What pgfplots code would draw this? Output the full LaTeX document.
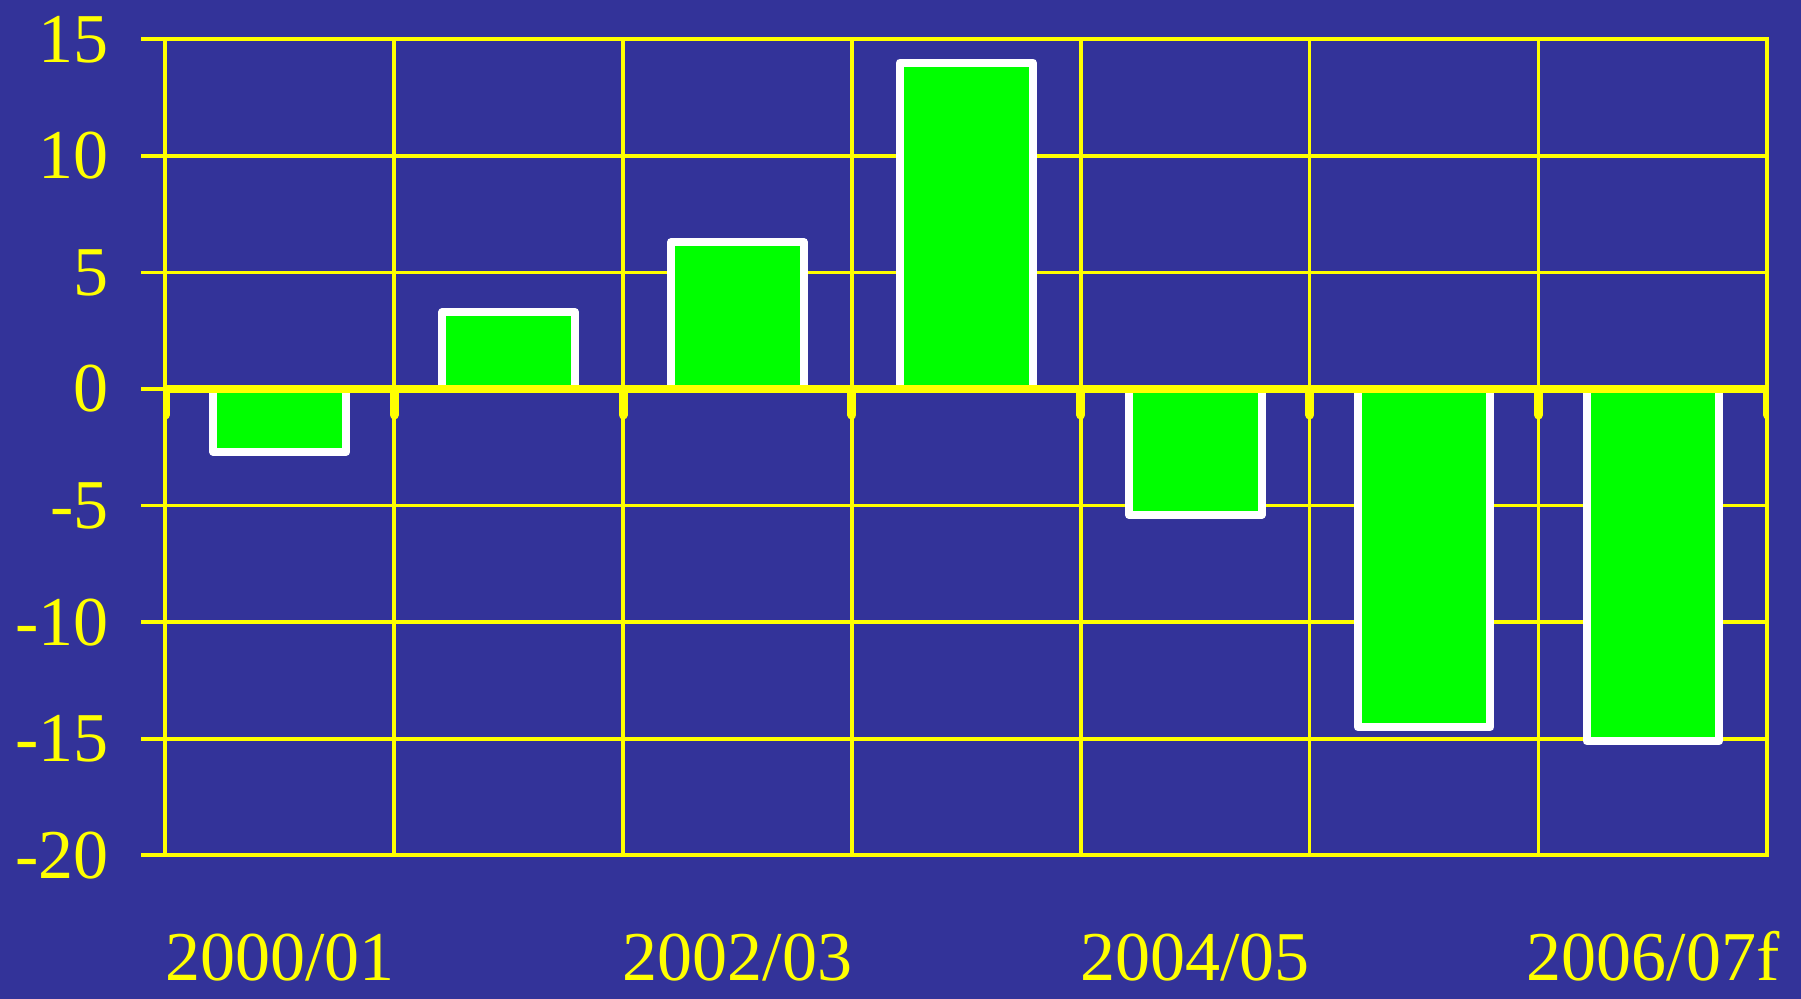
\documentclass[border=0pt]{standalone}
\usepackage{pgfplots}
\pgfplotsset{compat=1.18}
\usepackage{fontspec}
\setmainfont{Liberation Serif}
\definecolor{bg}{RGB}{51,51,153}
\definecolor{yel}{RGB}{255,255,0}
\definecolor{grn}{RGB}{0,255,0}
\begin{document}
\begin{tikzpicture}
\fill[bg] (-82.7pt,-71.85pt) rectangle (817.8pt,427.65pt);
\begin{axis}[
  at={(0,0)}, anchor=south west,
  scale only axis, width=801pt, height=408pt,
  xmin=0.5, xmax=7.5, ymin=-20, ymax=15,
  xtick={0.5,1.5,...,7.5}, xticklabels={},
  ytick={-20,-15,...,15},
  yticklabels={-20,-15,-10,-5,0,5,10,15},
  extra x ticks={1,3,5,7},
  extra x tick labels={2000/01,2002/03,2004/05,2006/07f},
  extra x tick style={grid=none, major tick length=0pt},
  xtick pos=lower, ytick pos=left,
  tick align=outside,
  major tick length=12pt,
  xtick style={draw=none},
  ytick style={yel, line width=1.8pt},
  grid=major,
  major grid style={yel, line width=1.8pt},
  axis line style={yel, line width=2pt},
  ticklabel style={font=\fontsize{35}{40}\selectfont, text=yel},
  yticklabel style={xshift=-13pt},
  xticklabel style={anchor=base, yshift=-62.6pt},
]
\addplot[ybar, bar width=0.58, fill=grn, draw=white, line width=4pt, line join=round]
  coordinates {(1,-2.7) (2,3.3) (3,6.3) (4,14.0) (5,-5.4) (6,-14.5) (7,-15.1)};
\draw[yel, line width=4pt] (axis cs:0.5,0) -- (axis cs:7.5,0);
\pgfplotsinvokeforeach{0.5,1.5,2.5,3.5,4.5,5.5,6.5,7.5}{
  \draw[yel, line width=4.5pt, line cap=round] (axis cs:#1,0) -- ([yshift=-13pt]axis cs:#1,0);
}
\end{axis}
\pgfresetboundingbox
\useasboundingbox (-82.7pt,-71.85pt) rectangle (817.8pt,427.65pt);
\end{tikzpicture}
\end{document}
